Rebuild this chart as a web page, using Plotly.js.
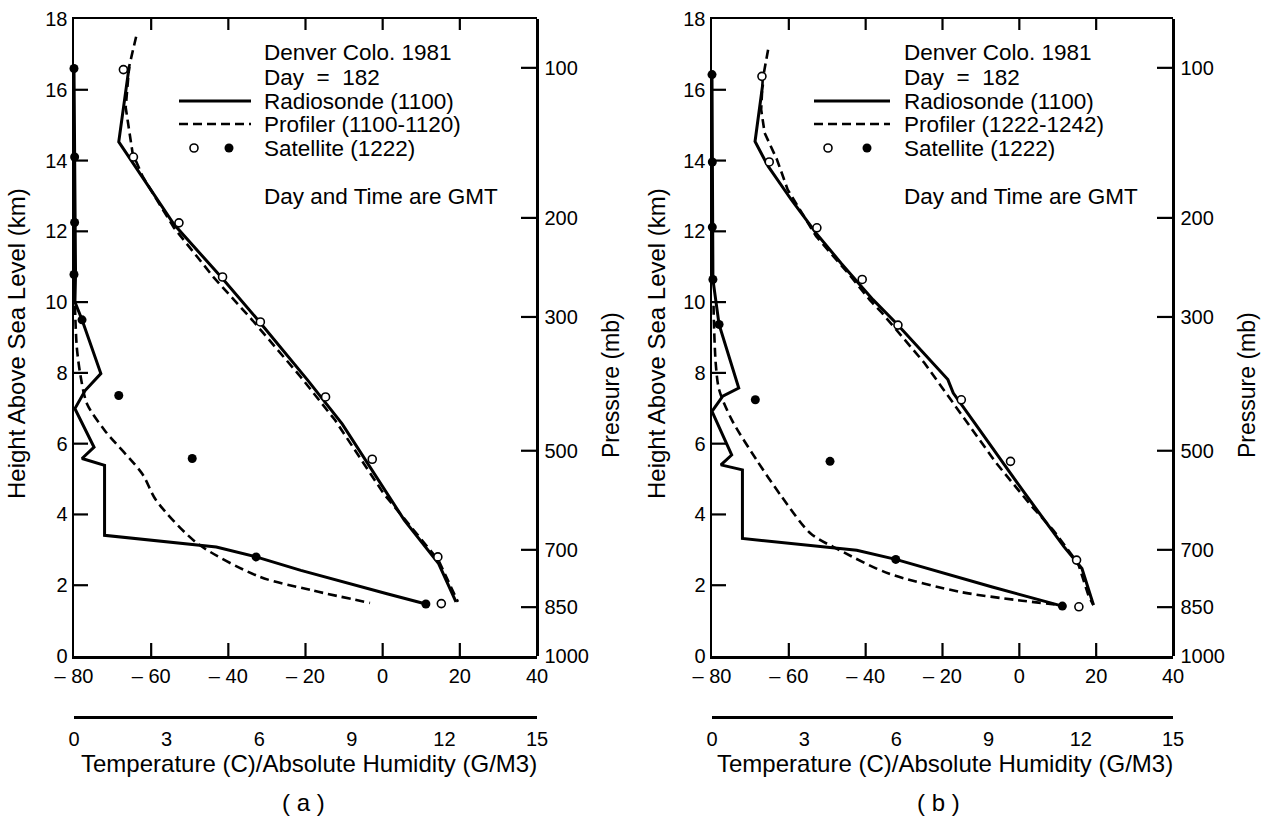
<!DOCTYPE html>
<html>
<head>
<meta charset="utf-8">
<script src="https://cdn.plot.ly/plotly-3.0.1.min.js"></script>
<style>html,body{margin:0;padding:0;background:#fff;}</style>
</head>
<body>
<div id="chart" style="width:1262px;height:816px;"></div>
<script>
// ---------------- DATA ----------------
const tempTicks = [-80, -60, -40, -20, 0, 20, 40];
const tempTickText = ['\u2013 80', '\u2013 60', '\u2013 40', '\u2013 20', '0', '20', '40'];
const humTicks = [0, 3, 6, 9, 12, 15];
const heightTicks = [0, 2, 4, 6, 8, 10, 12, 14, 16, 18];
const pressureLabels = ['100', '200', '300', '500', '700', '850', '1000'];
const pressureHeights = [16.62, 12.38, 9.58, 5.8, 3.0, 1.38, 0];

// Panel (a)
const radTempA_T = [-65.7, -68.4, -54.1, -41.8, -31.9, -19.4, -10.5, 5.6, 14.5, 19.0];
const radTempA_H = [16.66, 14.53, 12.2, 10.7, 9.44, 7.79, 6.56, 3.84, 2.61, 1.53];
const profTempA_T = [-63.9, -65.7, -66.6, -64.8, -62.2, -54.1, -43.8, -33.7, -21.2, -12.3, 0.25, 7.4, 14.5, 19.5];
const profTempA_H = [17.5, 16.66, 15.5, 14.2, 13.55, 12.1, 10.7, 9.48, 7.88, 6.66, 4.59, 3.65, 2.7, 1.53];
const satTempA_T = [-67.2, -64.6, -52.8, -41.5, -31.7, -14.8, -2.7, 14.3, 15.2];
const satTempA_H = [16.57, 14.1, 12.24, 10.71, 9.44, 7.32, 5.56, 2.8, 1.48];
const satHumA_Q = [0, 0.02, 0.02, 0, 0.26, 1.45, 3.83, 5.9, 11.4];
const satHumA_H = [16.6, 14.1, 12.25, 10.78, 9.5, 7.36, 5.58, 2.8, 1.47];
const radHumA_Q = [0, 0.02, 0.04, 0.05, 0.03, 0.26, 0.87, 0.36, 0.03, 0.65, 0.26, 0.99, 0.99, 4.61, 5.9, 7.35, 10.14, 11.4];
const radHumA_H = [16.6, 14.1, 12.25, 10.78, 10.0, 9.5, 7.98, 7.5, 6.99, 5.9, 5.58, 5.39, 3.41, 3.08, 2.8, 2.42, 1.76, 1.47];
const profHumA_Q = [0.03, 0.09, 0.2, 0.42, 0.99, 2.21, 2.66, 4.0, 6.01, 7.69, 9.59];
const profHumA_H = [9.9, 8.73, 7.98, 7.13, 6.38, 5.15, 4.4, 3.18, 2.24, 1.86, 1.5];

// Panel (b)
const radTempB_T = [-66.8, -68.8, -65.4, -59.4, -52.9, -46.4, -38.1, -32.1, -18.6, -17.2, -11.6, 1.4, 11.6, 16.3, 19.3];
const radTempB_H = [16.15, 14.54, 13.84, 12.9, 11.95, 11.1, 10.07, 9.41, 7.81, 7.43, 6.58, 4.6, 3.09, 2.47, 1.44];
const profTempB_T = [-65.4, -66.8, -67.2, -66.3, -63.1, -60.3, -52.9, -44.6, -39.0, -35.8, -24.7, -15.3, -6.0, 3.3, 8.8, 15.3, 18.1, 19.3];
const profTempB_H = [17.13, 16.3, 15.44, 14.78, 14.03, 13.18, 11.86, 10.82, 10.07, 9.7, 8.28, 6.87, 5.45, 4.22, 3.56, 2.62, 1.67, 1.44];
const satTempB_T = [-67.0, -65.1, -52.7, -40.9, -31.6, -15.1, -2.3, 14.9, 15.5];
const satTempB_H = [16.38, 13.96, 12.1, 10.64, 9.35, 7.24, 5.5, 2.71, 1.39];
const satHumB_Q = [0, 0.01, 0.01, 0.03, 0.23, 1.41, 3.84, 5.98, 11.4];
const satHumB_H = [16.43, 13.96, 12.12, 10.64, 9.37, 7.24, 5.5, 2.73, 1.41];
const radHumB_Q = [0, 0.01, 0.01, 0.03, 0.23, 0.87, 0.35, 0, 0.64, 0.29, 0.99, 0.99, 4.71, 5.98, 9.12, 11.4];
const radHumB_H = [16.43, 13.96, 12.12, 10.64, 9.37, 7.57, 7.34, 6.91, 5.68, 5.4, 5.26, 3.32, 2.99, 2.73, 1.95, 1.41];
const profHumB_Q = [0.05, 0.06, 0.12, 0.23, 0.64, 1.45, 2.27, 3.2, 4.13, 5.75, 8.09, 9.93, 11.34];
const profHumB_H = [9.9, 9.5, 8.28, 7.53, 6.68, 5.54, 4.5, 3.47, 3.0, 2.33, 1.81, 1.58, 1.44];

// Text
const titleA = ['Denver Colo. 1981', 'Day  =  182', 'Radiosonde (1100)', 'Profiler (1100-1120)', 'Satellite (1222)', 'Day and Time are GMT'];
const titleB = ['Denver Colo. 1981', 'Day  =  182', 'Radiosonde (1100)', 'Profiler (1222-1242)', 'Satellite (1222)', 'Day and Time are GMT'];
const xTitle = 'Temperature (C)/Absolute Humidity (G/M3)';
const yTitle = 'Height Above Sea Level (km)';
const y2Title = 'Pressure (mb)';
const panelLabels = ['( a )', '( b )'];

// ---------------- LAYOUT HELPERS ----------------
const W = 1262, H = 816;
const fx = p => p / W;
const fy = p => 1 - p / H;
const FAM = 'Liberation Sans, Arial, sans-serif';
const TICKF = {family: FAM, size: 20, color: '#000'};
const LW = 3, DLW = 2.6, DASH = '9px,5px';
const T_RANGE = [-80, 40], Q_RANGE = [0, 15], Z_RANGE = [0, 18];

function lineTrace(x, y, xa, ya, dashed, smooth) {
  return {x: x, y: y, xaxis: xa, yaxis: ya, mode: 'lines', type: 'scatter', cliponaxis: false,
    line: {color: '#000', width: dashed ? DLW : LW, dash: dashed ? DASH : 'solid', shape: smooth ? 'spline' : 'linear', smoothing: 0.8},
    hoverinfo: 'skip', showlegend: false};
}
function markerTrace(x, y, xa, ya, filled) {
  return {x: x, y: y, xaxis: xa, yaxis: ya, mode: 'markers', type: 'scatter', cliponaxis: false,
    marker: filled ? {symbol: 'circle', size: 9, color: '#000'} :
                     {symbol: 'circle', size: 8, color: '#fff', line: {color: '#000', width: 1.6}},
    hoverinfo: 'skip', showlegend: false};
}
// inward tick marks drawn through the axes' own scales
function tickTrace(vals, a0, a1, vertical, xa, ya) {
  const xs = [], ys = [];
  vals.forEach(v => {
    if (vertical) { xs.push(v, v, null); ys.push(a0, a1, null); }
    else { xs.push(a0, a1, null); ys.push(v, v, null); }
  });
  return {x: xs, y: ys, xaxis: xa, yaxis: ya, mode: 'lines', type: 'scatter', cliponaxis: false, connectgaps: false,
    line: {color: '#000', width: 2.2}, hoverinfo: 'skip', showlegend: false};
}
function base() {
  return {showgrid: false, zeroline: false, tickfont: TICKF, linecolor: '#000', linewidth: 2.5, ticks: '', fixedrange: true};
}

const P = [
  {x: 'x', xh: 'x2', y: 'y', yp: 'y2', left: 74, right: 537},
  {x: 'x3', xh: 'x4', y: 'y3', yp: 'y4', left: 712, right: 1173}
];
const TOP = 19, BOT = 656, HUMY = 717;
const key = id => id.charAt(0) + 'axis' + id.slice(1);

const layout = {
  width: W, height: H, margin: {l: 0, r: 0, t: 0, b: 0}, paper_bgcolor: '#fff', plot_bgcolor: 'rgba(0,0,0,0)',
  showlegend: false, annotations: [], shapes: []
};

const data = [
  lineTrace(radTempA_T, radTempA_H, 'x', 'y', false),
  lineTrace(profTempA_T, profTempA_H, 'x', 'y', true),
  lineTrace(radHumA_Q, radHumA_H, 'x2', 'y', false),
  lineTrace(profHumA_Q, profHumA_H, 'x2', 'y', true, true),
  markerTrace(satTempA_T, satTempA_H, 'x', 'y', false),
  markerTrace(satHumA_Q, satHumA_H, 'x2', 'y', true),
  lineTrace(radTempB_T, radTempB_H, 'x3', 'y3', false),
  lineTrace(profTempB_T, profTempB_H, 'x3', 'y3', true),
  lineTrace(radHumB_Q, radHumB_H, 'x4', 'y3', false),
  lineTrace(profHumB_Q, profHumB_H, 'x4', 'y3', true, true),
  markerTrace(satTempB_T, satTempB_H, 'x3', 'y3', false),
  markerTrace(satHumB_Q, satHumB_H, 'x4', 'y3', true)
];

P.forEach(p => {
  layout[key(p.x)] = Object.assign(base(), {domain: [fx(p.left), fx(p.right)], anchor: p.y, range: T_RANGE,
    tickmode: 'array', tickvals: tempTicks, ticktext: tempTickText, showline: true, mirror: true});
  layout[key(p.y)] = Object.assign(base(), {domain: [fy(BOT), fy(TOP)], anchor: p.x, range: Z_RANGE,
    tickmode: 'array', tickvals: heightTicks, showline: true});
  layout[key(p.xh)] = Object.assign(base(), {overlaying: p.x, anchor: 'free', position: fy(HUMY), side: 'bottom', range: Q_RANGE,
    tickmode: 'array', tickvals: humTicks, showline: true, ticklabelstandoff: 3});
  layout[key(p.yp)] = Object.assign(base(), {overlaying: p.y, anchor: 'free', position: fx(p.right), side: 'right', range: Z_RANGE,
    tickmode: 'array', tickvals: pressureHeights, ticktext: pressureLabels, showline: true, ticklabelstandoff: 2});

  // pixel lengths converted to axis units
  const kmPerPx = (Z_RANGE[1] - Z_RANGE[0]) / (BOT - TOP);
  const degPerPx = (T_RANGE[1] - T_RANGE[0]) / (p.right - p.left);
  const innerT = tempTicks.slice(1, -1);
  data.push(tickTrace(innerT, Z_RANGE[0], Z_RANGE[0] + 13 * kmPerPx, true, p.x, p.y));
  data.push(tickTrace(innerT, Z_RANGE[1], Z_RANGE[1] - 11 * kmPerPx, true, p.x, p.y));
  const humBase = Z_RANGE[0] - (HUMY - BOT) * kmPerPx;
  data.push(tickTrace(humTicks, humBase, humBase + 12 * kmPerPx, true, p.xh, p.y));
  data.push(tickTrace(heightTicks.slice(1, -1), T_RANGE[0], T_RANGE[0] + 14 * degPerPx, false, p.x, p.y));
  data.push(tickTrace(pressureHeights.slice(0, -1), T_RANGE[1] - 16 * degPerPx, T_RANGE[1], false, p.x, p.yp));
});

// text blocks, titles
const legendRows = [52, 77, 101, 124, 148, 196];
const panels = [
  {texts: titleA, textX: 262, sampleX: [179, 251], circX: [194, 229], yTitleX: 16, y2TitleX: 611, titleX: 309},
  {texts: titleB, textX: 902, sampleX: [814, 890], circX: [828, 867], yTitleX: 656, y2TitleX: 1247, titleX: 945}
];
const LF = {family: FAM, size: 22.5, color: '#000'};
const TF = {family: FAM, size: 24, color: '#000'};
const PF = {family: FAM, size: 23, color: '#000'};
panels.forEach((p, i) => {
  p.texts.forEach((t, k) => {
    layout.annotations.push({xref: 'paper', yref: 'paper', x: fx(p.textX), y: fy(legendRows[k]), xanchor: 'left', yanchor: 'middle',
      text: t, showarrow: false, font: LF});
  });
  layout.shapes.push({type: 'line', xref: 'paper', yref: 'paper', x0: fx(p.sampleX[0]), x1: fx(p.sampleX[1]),
    y0: fy(legendRows[2]), y1: fy(legendRows[2]), line: {color: '#000', width: LW}});
  layout.shapes.push({type: 'line', xref: 'paper', yref: 'paper', x0: fx(p.sampleX[0]), x1: fx(p.sampleX[1]),
    y0: fy(legendRows[3]), y1: fy(legendRows[3]), line: {color: '#000', width: DLW, dash: DASH}});
  layout.shapes.push({type: 'circle', xref: 'paper', yref: 'paper', x0: fx(p.circX[0] - 4), x1: fx(p.circX[0] + 4),
    y0: fy(legendRows[4] + 4), y1: fy(legendRows[4] - 4), line: {color: '#000', width: 1.6}, fillcolor: '#fff'});
  layout.shapes.push({type: 'circle', xref: 'paper', yref: 'paper', x0: fx(p.circX[1] - 4.5), x1: fx(p.circX[1] + 4.5),
    y0: fy(legendRows[4] + 4.5), y1: fy(legendRows[4] - 4.5), line: {color: '#000', width: 0}, fillcolor: '#000'});
  layout.annotations.push({xref: 'paper', yref: 'paper', x: fx(p.yTitleX), y: fy(344), xanchor: 'center', yanchor: 'middle',
    text: yTitle, textangle: -90, showarrow: false, font: TF});
  layout.annotations.push({xref: 'paper', yref: 'paper', x: fx(p.y2TitleX), y: fy(385), xanchor: 'center', yanchor: 'middle',
    text: y2Title, textangle: -90, showarrow: false, font: PF});
  layout.annotations.push({xref: 'paper', yref: 'paper', x: fx(p.titleX), y: fy(763), xanchor: 'center', yanchor: 'middle',
    text: xTitle, showarrow: false, font: TF});
  layout.annotations.push({xref: 'paper', yref: 'paper', x: fx(p.titleX - 6), y: fy(802), xanchor: 'center', yanchor: 'middle',
    text: panelLabels[i], showarrow: false, font: TF});
});

Plotly.newPlot('chart', data, layout, {displayModeBar: false, staticPlot: true});
</script>
</body>
</html>
